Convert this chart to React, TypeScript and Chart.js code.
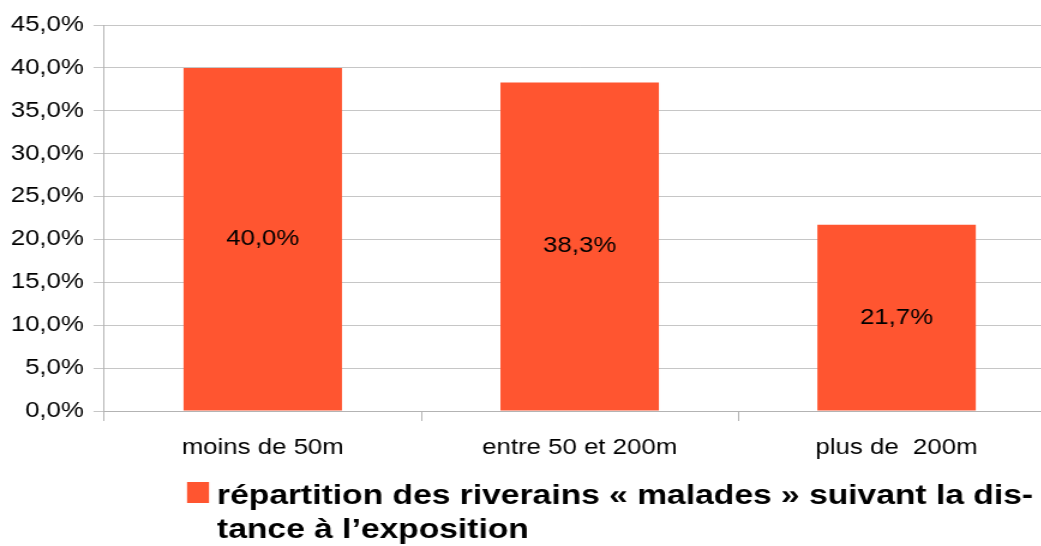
import React, { useEffect, useRef } from "react";
import { Chart, registerables } from "chart.js";

Chart.register(...registerables);

const categories = ["moins de 50m", "entre 50 et 200m", "plus de  200m"];
const values = [40.0, 38.3, 21.7];
const yMin = 0;
const yMax = 45;
const yStep = 5;
const seriesLabel = "répartition des riverains « malades » suivant la distance à l’exposition";
const legendLines = ["répartition des riverains « malades » suivant la dis-", "tance à l’exposition"];

const BAR_COLOR = "#FF5530";
const GRID_COLOR = "#c6c6c6";
const AXIS_COLOR = "#b3b3b3";
const FONT = "'Liberation Sans', Arial, sans-serif";

// logical canvas size, stretched horizontally by CSS (reference is stretched 1.2x)
const STRETCH = 1.2;
const LOGICAL_W = 890;
const H = 546;

const fmt = (v: number) => v.toFixed(1).replace(".", ",") + "%";

const valueLabels = {
  id: "valueLabels",
  afterDatasetsDraw(chart: any) {
    const ctx = chart.ctx;
    ctx.save();
    ctx.font = `21.5px ${FONT}`;
    ctx.fillStyle = "#000";
    ctx.textAlign = "center";
    ctx.textBaseline = "middle";
    chart.data.datasets.forEach((ds: any, di: number) => {
      const meta = chart.getDatasetMeta(di);
      meta.data.forEach((el: any, i: number) => {
        const p = el.getProps(["x", "y", "base"], true);
        ctx.fillText(fmt(ds.data[i]), p.x, (p.y + p.base) / 2);
      });
    });
    ctx.restore();
  },
};

const customLegend = {
  id: "customLegend",
  afterDraw(chart: any) {
    const ctx = chart.ctx;
    ctx.save();
    ctx.fillStyle = chart.data.datasets[0].backgroundColor;
    ctx.fillRect(187 / STRETCH, 482, 22 / STRETCH, 21);
    ctx.fillStyle = "#000";
    ctx.font = `bold 28px ${FONT}`;
    ctx.textAlign = "left";
    ctx.textBaseline = "alphabetic";
    legendLines.forEach((line, i) => {
      ctx.fillText(line, 217 / STRETCH, 504 + i * 34);
    });
    ctx.restore();
  },
};

export default function App() {
  const ref = useRef<HTMLCanvasElement | null>(null);
  useEffect(() => {
    if (!ref.current) return;
    const chart = new Chart(ref.current, {
      type: "bar",
      data: {
        labels: categories,
        datasets: [
          {
            label: seriesLabel,
            data: values,
            backgroundColor: BAR_COLOR,
            borderWidth: 0,
            barPercentage: 0.5,
            categoryPercentage: 1,
          },
        ],
      },
      options: {
        animation: false,
        responsive: false,
        devicePixelRatio: 1,
        layout: { padding: { left: 0, top: 25, right: LOGICAL_W - 1055 / STRETCH, bottom: 85 } },
        plugins: {
          legend: { display: false },
          tooltip: { enabled: false },
        },
        scales: {
          x: {
            grid: {
              display: true,
              drawOnChartArea: false,
              drawTicks: true,
              tickLength: 10,
              color: AXIS_COLOR,
              offset: true,
            },
            border: { display: true, color: AXIS_COLOR },
            ticks: {
              color: "#000",
              font: { family: FONT, size: 21.5 },
              padding: 14,
              maxRotation: 0,
              autoSkip: false,
            },
            afterFit(scale: any) {
              scale.height = 50;
            },
          },
          y: {
            min: yMin,
            max: yMax,
            grid: {
              color: GRID_COLOR,
              drawTicks: true,
              tickLength: 9,
            },
            border: { display: true, color: AXIS_COLOR },
            ticks: {
              stepSize: yStep,
              color: "#000",
              font: { family: FONT, size: 21.5 },
              padding: 8,
              callback: (v: any) => fmt(Number(v)),
            },
            afterFit(scale: any) {
              scale.width = 104.3 / STRETCH;
            },
          },
        },
      },
      plugins: [valueLabels, customLegend],
    });
    return () => chart.destroy();
  }, []);

  return (
    <div
      style={{
        position: "fixed",
        left: 0,
        top: 0,
        width: 1041,
        height: H,
        overflow: "hidden",
        background: "#fff",
      }}
    >
      <canvas
        ref={ref}
        width={LOGICAL_W}
        height={H}
        style={{ display: "block", width: `${LOGICAL_W * STRETCH}px`, height: `${H}px` }}
      />
    </div>
  );
}
